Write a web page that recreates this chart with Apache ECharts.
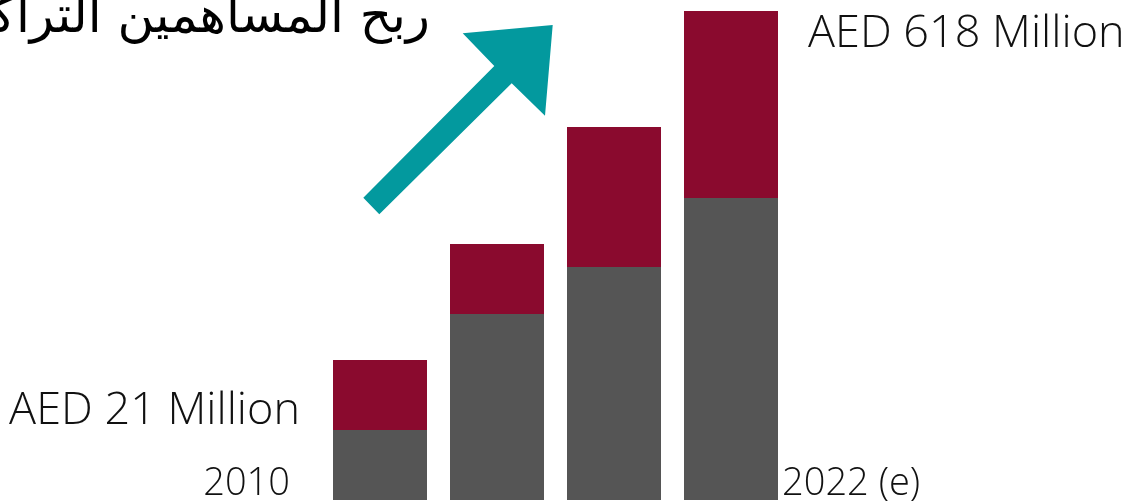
<!DOCTYPE html>
<html>
<head>
<meta charset="utf-8">
<script src="https://cdn.jsdelivr.net/npm/echarts@6/dist/echarts.min.js"></script>
<style>
html,body{margin:0;padding:0;background:#fff;}
#chart{width:1132px;height:501px;}
</style>
</head>
<body>
<div id="chart"></div>
<script>
// Data (in chart units)
const categories = ['2010', '2014', '2018', '2022 (e)'];
const baseValues = [70, 186, 233, 302];
const topValues = [70, 70, 140, 187];
const topLabels = ['AED 21 Million', '', '', 'AED 618 Million'];
const yearLabels = ['2010', '', '', '2022 (e)'];
const titleText = 'ربح المساهمين التراكمي';

const FONT = '"Open Sans", "Noto Sans", sans-serif';
const chart = echarts.init(document.getElementById('chart'));

function labelFor(i, text, kind) {
  if (!text) return { show: false };
  const first = i === 0;
  if (kind === 'top') {
    return {
      show: true, formatter: text, color: '#111', fontFamily: FONT, fontWeight: 300, fontSize: 45,
      position: first ? [-33, 51] : [124, 23],
      align: first ? 'right' : 'left', verticalAlign: 'middle'
    };
  }
  return {
    show: true, formatter: text, color: '#111', fontFamily: FONT, fontWeight: 300, fontSize: 38,
    position: first ? [-43, 54] : [98, 286],
    align: first ? 'right' : 'left', verticalAlign: 'middle'
  };
}

chart.setOption({
  animation: false,
  backgroundColor: '#ffffff',
  grid: { left: 321.5, right: 342.5, top: 0, bottom: 1, containLabel: false },
  xAxis: {
    type: 'category', data: categories,
    axisLine: { show: false }, axisTick: { show: false }, axisLabel: { show: false }
  },
  yAxis: {
    type: 'value', min: 0, max: 500,
    show: false, splitLine: { show: false }
  },
  series: [
    {
      type: 'bar', stack: 'total', barWidth: 94,
      itemStyle: { color: '#555555' },
      data: baseValues.map((v, i) => ({ value: v, label: labelFor(i, yearLabels[i], 'year') }))
    },
    {
      type: 'bar', stack: 'total', barWidth: 94,
      itemStyle: { color: '#8A0A2E' },
      data: topValues.map((v, i) => ({ value: v, label: labelFor(i, topLabels[i], 'top') }))
    }
  ],
  graphic: [
    {
      type: 'polygon',
      shape: { points: [[363.3,197.7],[494.3,66],[462.7,33.3],[552.7,25],[545,115.7],[511.7,83.3],[379.3,214.3]] },
      style: { fill: '#03999E' }
    },
    {
      type: 'text', x: 430, y: 44,
      style: {
        text: titleText, fill: '#000', fontSize: 50,
        fontFamily: '"DejaVu Sans", sans-serif', fontWeight: 'normal', align: 'right', verticalAlign: 'bottom'
      }
    }
  ]
});
</script>
</body>
</html>
